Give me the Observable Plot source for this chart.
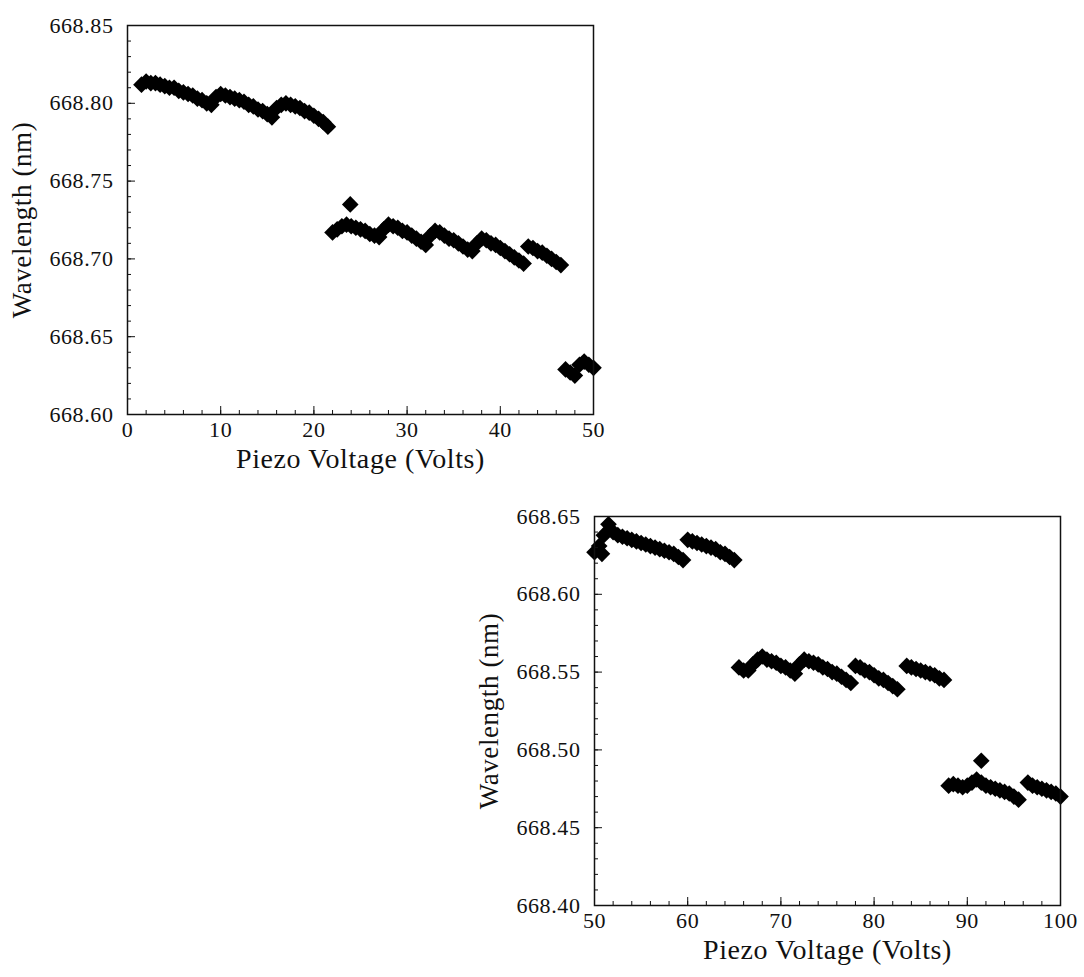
<!DOCTYPE html>
<html>
<head>
<meta charset="utf-8">
<script src="https://cdn.jsdelivr.net/npm/d3@7"></script>
<script src="https://cdn.jsdelivr.net/npm/@observablehq/plot@0.6"></script>
<style>
  html, body { margin: 0; padding: 0; background: #fff; overflow: hidden; }
  #wrap { position: relative; width: 1084px; height: 977px; }
  svg text { letter-spacing: 0.6px; }
</style>
</head>
<body>
<div id="wrap"></div>
<script>
// ---- Top panel data (Piezo Voltage 0–50 V) ----
const topVolts = [
  1.5,2,2.5,3,3.5,4,4.5,5,5.5,6,6.5,7,7.5,8,8.5,9,
  9.5,10,10.5,11,11.5,12,12.5,13,13.5,14,14.5,15,15.5,
  16,16.5,17,17.5,18,18.5,19,19.5,20,20.5,21,21.5,
  22,22.5,23,23.5,24,24.5,25,25.5,26,26.5,27,
  27.5,28,28.5,29,29.5,30,30.5,31,31.5,32,
  32.5,33,33.5,34,34.5,35,35.5,36,36.5,37,
  37.5,38,38.5,39,39.5,40,40.5,41,41.5,42,42.5,
  43,43.5,44,44.5,45,45.5,46,46.5,
  23.9,
  47,47.5,48,48.5,49,49.5,50
];
const topWave = [
  668.812,668.814,668.813,668.813,668.812,668.811,668.810,668.810,668.808,668.807,668.806,668.805,668.803,668.802,668.800,668.799,
  668.804,668.806,668.805,668.804,668.803,668.802,668.801,668.799,668.798,668.796,668.795,668.793,668.791,
  668.797,668.799,668.800,668.799,668.798,668.797,668.795,668.794,668.792,668.790,668.788,668.785,
  668.717,668.719,668.721,668.722,668.721,668.720,668.719,668.718,668.716,668.715,668.714,
  668.719,668.722,668.721,668.720,668.718,668.717,668.715,668.713,668.711,668.709,
  668.715,668.718,668.717,668.715,668.713,668.712,668.710,668.708,668.706,668.705,
  668.710,668.713,668.712,668.710,668.709,668.707,668.705,668.703,668.701,668.699,668.697,
  668.708,668.707,668.705,668.704,668.702,668.700,668.698,668.696,
  668.735,
  668.629,668.627,668.625,668.632,668.634,668.632,668.630
];
const topXTicks = [0,10,20,30,40,50];
const topYTicks = [668.60,668.65,668.70,668.75,668.80,668.85];

// ---- Bottom panel data (Piezo Voltage 50–100 V) ----
const botVolts = [
  50,50.5,50.8,51,51.5,52,52.5,53,53.5,54,54.5,55,55.5,56,56.5,57,57.5,58,58.5,59,59.5,
  60,60.5,61,61.5,62,62.5,63,63.5,64,64.5,65,
  65.5,66,66.5,67,67.5,68,68.5,69,69.5,70,70.5,71,71.5,
  72,72.5,73,73.5,74,74.5,75,75.5,76,76.5,77,77.5,
  78,78.5,79,79.5,80,80.5,81,81.5,82,82.5,
  83.5,84,84.5,85,85.5,86,86.5,87,87.5,
  88,88.5,89,89.5,90,90.5,91,91.5,92,92.5,93,93.5,94,94.5,95,95.5,
  91.5,
  96.5,97,97.5,98,98.5,99,99.5,100
];
const botWave = [
  668.627,668.631,668.626,668.638,668.645,668.640,668.638,668.637,668.636,668.635,668.634,668.633,668.632,668.631,668.630,668.629,668.628,668.627,668.626,668.624,668.622,
  668.635,668.634,668.633,668.632,668.631,668.630,668.629,668.627,668.626,668.624,668.622,
  668.553,668.551,668.551,668.555,668.558,668.560,668.558,668.557,668.556,668.554,668.553,668.551,668.549,
  668.555,668.558,668.557,668.556,668.555,668.553,668.552,668.550,668.549,668.547,668.545,668.543,
  668.554,668.553,668.551,668.550,668.548,668.546,668.545,668.543,668.541,668.539,
  668.554,668.553,668.552,668.551,668.550,668.549,668.548,668.546,668.545,
  668.477,668.478,668.477,668.476,668.477,668.479,668.481,668.479,668.477,668.476,668.475,668.474,668.473,668.472,668.470,668.468,
  668.493,
  668.479,668.477,668.476,668.475,668.474,668.473,668.472,668.470
];
const botXTicks = [50,60,70,80,90,100];
const botYTicks = [668.40,668.45,668.50,668.55,668.60,668.65];

const xLabel = "Piezo Voltage (Volts)";
const yLabel = "Wavelength (nm)";

function panel(volts, wave, xDomain, yDomain, xTicks, yTicks) {
  const W = 466, H = 389, ml = 127, mt = 25, mr = 20, mb = 72;
  const rows = volts.map((v, i) => ({v, w: wave[i]}));
  const xMinor = d3.range(xDomain[0], xDomain[1] + 0.001, 2);
  const yMinor = d3.range(0, 26).map(i => yDomain[0] + i * 0.01);
  return Plot.plot({
    width: ml + W + mr, height: mt + H + mb,
    marginLeft: ml, marginTop: mt, marginRight: mr, marginBottom: mb,
    x: {domain: xDomain},
    y: {domain: yDomain},
    style: {fontFamily: "'Liberation Serif', 'Times New Roman', serif", fontSize: "22px", background: "transparent", color: "#111", overflow: "visible"},
    marks: [
      Plot.dot(rows, {x: "v", y: "w", symbol: "diamond2", r: 7.5, fill: "black", stroke: "none"}),
      Plot.tickX(xMinor, {x: d => d, insetTop: H - 4, stroke: "#111"}),
      Plot.tickX(xTicks, {x: d => d, insetTop: H - 8, stroke: "#111"}),
      Plot.tickY(yMinor, {y: d => d, insetRight: W - 4, stroke: "#111"}),
      Plot.tickY(yTicks, {y: d => d, insetRight: W - 8, stroke: "#111"}),
      Plot.frame({stroke: "#111", strokeWidth: 1.5}),
      Plot.axisX(xTicks, {tickSize: 0, tickPadding: 7, label: null, tickFormat: d => String(d)}),
      Plot.axisY(yTicks, {tickSize: 0, tickPadding: 14, label: null, tickFormat: d => d.toFixed(2)}),
      Plot.text([xLabel], {text: d => d, frameAnchor: "bottom", dy: 53, fontSize: 28, fill: "#111", textAnchor: "middle"}),
      Plot.text([yLabel], {text: d => d, frameAnchor: "left", dx: -105, rotate: -90, fontSize: 27, fill: "#111", textAnchor: "middle"})
    ]
  });
}

const wrap = document.getElementById("wrap");
const topPanel = panel(topVolts, topWave, [0, 50], [668.60, 668.85], topXTicks, topYTicks);
topPanel.style.position = "absolute"; topPanel.style.left = "0px"; topPanel.style.top = "0px";
wrap.appendChild(topPanel);

const botPanel = panel(botVolts, botWave, [50, 100], [668.40, 668.65], botXTicks, botYTicks);
botPanel.style.position = "absolute"; botPanel.style.left = "467px"; botPanel.style.top = "491px";
wrap.appendChild(botPanel);
</script>
</body>
</html>
